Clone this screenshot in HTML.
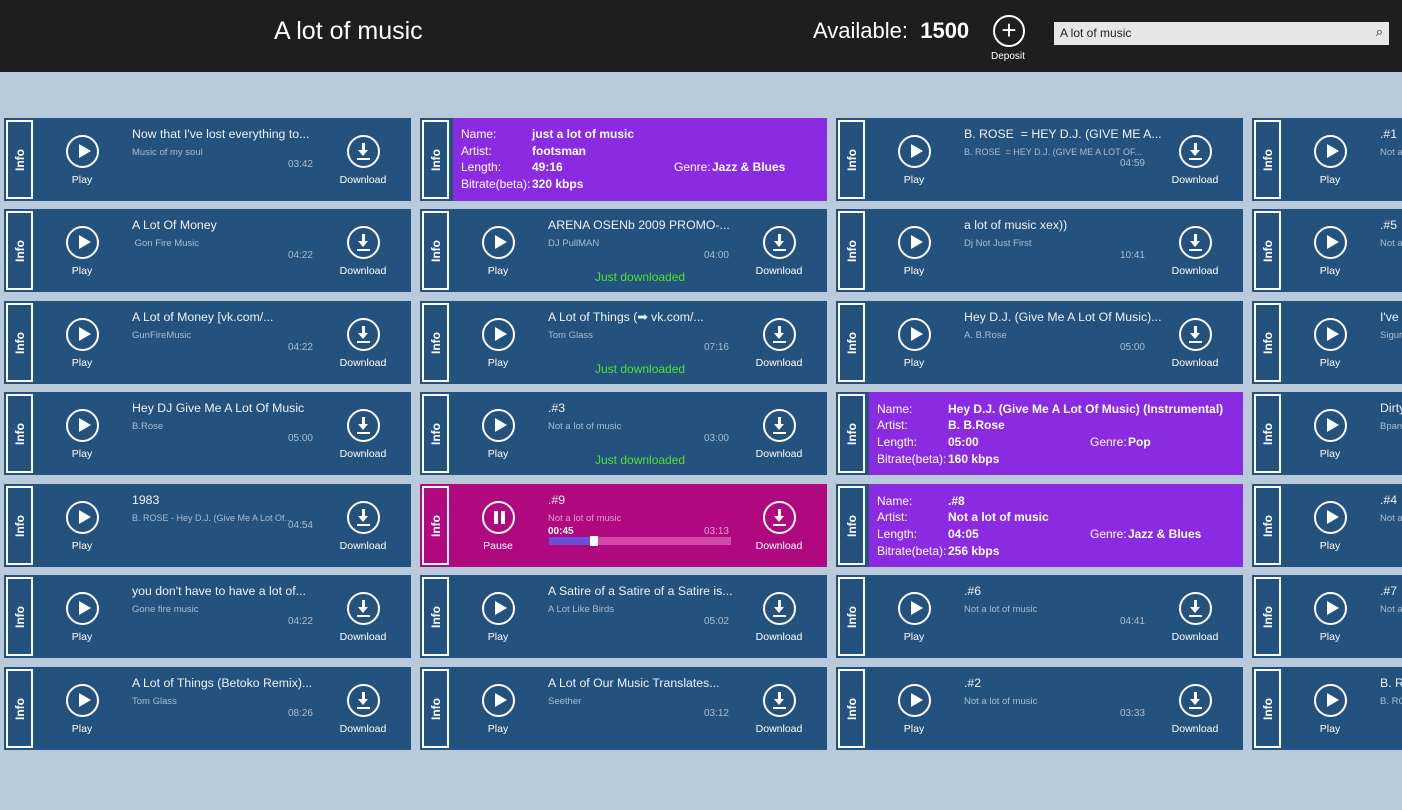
<!DOCTYPE html>
<html><head><meta charset="utf-8"><style>
*{margin:0;padding:0;box-sizing:border-box}
body{width:1402px;height:810px;background:#b9cadb;font-family:"Liberation Sans",sans-serif;color:#fff;position:relative;overflow:hidden}
.hd{position:absolute;left:0;top:0;width:1402px;height:72px;background:#1e1e1e}
.t{position:absolute;width:407px;height:83px;background:#24527e;overflow:hidden}
.i{position:absolute;left:2px;top:2px;width:27px;height:79px;border:2px solid #fff}
.i span{position:absolute;left:50%;top:50%;transform:translate(-50%,-50%) rotate(-90deg);font-size:12px;font-weight:bold}
.c{position:absolute;top:17px;width:33px;height:33px;border:2px solid #fff;border-radius:50%}
.p{left:62px}.d{left:343px}
.p:after{content:"";position:absolute;left:11px;top:7px;border-left:12px solid #fff;border-top:7.5px solid transparent;border-bottom:7.5px solid transparent}
.d:before{content:"";position:absolute;left:13px;top:6px;width:3px;height:9px;background:#fff}
.d:after{content:"";position:absolute;left:9px;top:13px;border-top:6px solid #fff;border-left:5.5px solid transparent;border-right:5.5px solid transparent}
.d i{position:absolute;left:8px;top:21px;width:13px;height:2px;background:#fff}
.l{position:absolute;top:56px;font-size:10.5px;text-align:center;width:80px}
.pl{left:38px}.dl{left:319px}
.ti{position:absolute;left:128px;top:9px;font-size:12.3px;white-space:nowrap;color:#eef2f7}
.su{position:absolute;left:128px;top:29px;font-size:9.5px;color:#a9bcd2;white-space:nowrap}
.du{position:absolute;right:98px;top:41px;font-size:10px;color:#a9bcd2}
.jd{position:absolute;left:175px;top:61px;font-size:12px;color:#4fe22e}
.pu{position:absolute;left:33px;top:0;right:0;bottom:0;background:#8a2be2;font-size:12px;font-weight:bold}
.pu div{position:absolute;white-space:nowrap}
.pu .k{font-weight:normal}
</style></head><body>
<div class="hd">
<div style="position:absolute;left:274px;top:17px;font-size:25px">A lot of music</div>
<div style="position:absolute;left:813px;top:18px;font-size:22px">Available:&nbsp; <b>1500</b></div>
<div style="position:absolute;left:993px;top:15px;width:32px;height:32px;border:2px solid #fff;border-radius:50%;text-align:center;font-size:26px;line-height:27px">+</div>
<div style="position:absolute;left:991px;top:51px;font-size:10px">Deposit</div>
<div style="position:absolute;left:1054px;top:22px;width:335px;height:23px;background:#e6e6e6;color:#222;font-size:12px;padding:4px 6px">A lot of music<span style="position:absolute;right:6px;top:2px;font-size:13px">⌕</span></div>
</div>

<div class="t" style="left:4px;top:118px"><div class="i"><span>Info</span></div><div class="c p"></div><div class="l pl">Play</div><div class="ti">Now that I've lost everything to...</div><div class="su">Music of my soul</div><div class="du">03:42</div><div class="c d"><i></i></div><div class="l dl">Download</div></div>
<div class="t" style="left:4px;top:209px"><div class="i"><span>Info</span></div><div class="c p"></div><div class="l pl">Play</div><div class="ti">A Lot Of Money</div><div class="su">&nbsp;Gon Fire Music</div><div class="du">04:22</div><div class="c d"><i></i></div><div class="l dl">Download</div></div>
<div class="t" style="left:4px;top:301px"><div class="i"><span>Info</span></div><div class="c p"></div><div class="l pl">Play</div><div class="ti">A Lot of Money [vk.com/...</div><div class="su">GunFireMusic</div><div class="du">04:22</div><div class="c d"><i></i></div><div class="l dl">Download</div></div>
<div class="t" style="left:4px;top:392px"><div class="i"><span>Info</span></div><div class="c p"></div><div class="l pl">Play</div><div class="ti">Hey DJ Give Me A Lot Of Music</div><div class="su">B.Rose</div><div class="du">05:00</div><div class="c d"><i></i></div><div class="l dl">Download</div></div>
<div class="t" style="left:4px;top:484px"><div class="i"><span>Info</span></div><div class="c p"></div><div class="l pl">Play</div><div class="ti">1983</div><div class="su" style="font-size:9px">B. ROSE - Hey D.J. (Give Me A Lot Of...</div><div class="du" style="top:36px">04:54</div><div class="c d"><i></i></div><div class="l dl">Download</div></div>
<div class="t" style="left:4px;top:575px"><div class="i"><span>Info</span></div><div class="c p"></div><div class="l pl">Play</div><div class="ti">you don't have to have a lot of...</div><div class="su">Gone fire music</div><div class="du">04:22</div><div class="c d"><i></i></div><div class="l dl">Download</div></div>
<div class="t" style="left:4px;top:667px"><div class="i"><span>Info</span></div><div class="c p"></div><div class="l pl">Play</div><div class="ti">A Lot of Things (Betoko Remix)...</div><div class="su">Tom Glass</div><div class="du">08:26</div><div class="c d"><i></i></div><div class="l dl">Download</div></div>

<div class="t" style="left:420px;top:118px"><div class="i"><span>Info</span></div><div class="pu">
<div class="k" style="left:8px;top:9px">Name:</div><div style="left:79px;top:9px">just a lot of music</div>
<div class="k" style="left:8px;top:26px">Artist:</div><div style="left:79px;top:26px">footsman</div>
<div class="k" style="left:8px;top:42px">Length:</div><div style="left:79px;top:42px">49:16</div>
<div class="k" style="left:221px;top:42px">Genre:</div><div style="left:259px;top:42px">Jazz &amp; Blues</div>
<div class="k" style="left:8px;top:59px">Bitrate(beta):</div><div style="left:79px;top:59px">320 kbps</div></div></div>
<div class="t" style="left:420px;top:209px"><div class="i"><span>Info</span></div><div class="c p"></div><div class="l pl">Play</div><div class="ti">ARENA OSENb 2009 PROMO-...</div><div class="su">DJ PullMAN</div><div class="du">04:00</div><div class="jd">Just downloaded</div><div class="c d"><i></i></div><div class="l dl">Download</div></div>
<div class="t" style="left:420px;top:301px"><div class="i"><span>Info</span></div><div class="c p"></div><div class="l pl">Play</div><div class="ti">A Lot of Things (➡ vk.com/...</div><div class="su">Tom Glass</div><div class="du">07:16</div><div class="jd">Just downloaded</div><div class="c d"><i></i></div><div class="l dl">Download</div></div>
<div class="t" style="left:420px;top:392px"><div class="i"><span>Info</span></div><div class="c p"></div><div class="l pl">Play</div><div class="ti">.#3</div><div class="su">Not a lot of music</div><div class="du">03:00</div><div class="jd">Just downloaded</div><div class="c d"><i></i></div><div class="l dl">Download</div></div>
<div class="t" style="left:420px;top:484px;background:#b0087f"><div class="i"><span>Info</span></div>
<div class="c" style="left:62px"><div style="position:absolute;left:10px;top:8px;width:4px;height:13px;background:#fff"></div><div style="position:absolute;left:17px;top:8px;width:4px;height:13px;background:#fff"></div></div><div class="l pl">Pause</div>
<div class="ti">.#9</div><div class="su" style="color:#e0a0cf">Not a lot of music</div>
<div style="position:absolute;left:128px;top:42px;font-size:10px;font-weight:bold">00:45</div><div class="du" style="top:42px;color:#e0a0cf">03:13</div>
<div style="position:absolute;left:129px;top:53px;width:182px;height:8px;background:#d04aa8"></div>
<div style="position:absolute;left:129px;top:53px;width:41px;height:8px;background:#6a4fd8"></div>
<div style="position:absolute;left:170px;top:52px;width:8px;height:10px;background:#fff"></div>
<div class="c d"><i></i></div><div class="l dl">Download</div></div>
<div class="t" style="left:420px;top:575px"><div class="i"><span>Info</span></div><div class="c p"></div><div class="l pl">Play</div><div class="ti">A Satire of a Satire of a Satire is...</div><div class="su">A Lot Like Birds</div><div class="du">05:02</div><div class="c d"><i></i></div><div class="l dl">Download</div></div>
<div class="t" style="left:420px;top:667px"><div class="i"><span>Info</span></div><div class="c p"></div><div class="l pl">Play</div><div class="ti">A Lot of Our Music Translates...</div><div class="su">Seether</div><div class="du">03:12</div><div class="c d"><i></i></div><div class="l dl">Download</div></div>

<div class="t" style="left:836px;top:118px"><div class="i"><span>Info</span></div><div class="c p"></div><div class="l pl">Play</div><div class="ti">B. ROSE &nbsp;= HEY D.J. (GIVE ME A...</div><div class="su" style="font-size:9px">B. ROSE &nbsp;= HEY D.J. (GIVE ME A LOT OF...</div><div class="du" style="top:40px">04:59</div><div class="c d"><i></i></div><div class="l dl">Download</div></div>
<div class="t" style="left:836px;top:209px"><div class="i"><span>Info</span></div><div class="c p"></div><div class="l pl">Play</div><div class="ti">a lot of music xex))</div><div class="su">Dj Not Just First</div><div class="du">10:41</div><div class="c d"><i></i></div><div class="l dl">Download</div></div>
<div class="t" style="left:836px;top:301px"><div class="i"><span>Info</span></div><div class="c p"></div><div class="l pl">Play</div><div class="ti">Hey D.J. (Give Me A Lot Of Music)...</div><div class="su">A. B.Rose</div><div class="du">05:00</div><div class="c d"><i></i></div><div class="l dl">Download</div></div>
<div class="t" style="left:836px;top:392px"><div class="i"><span>Info</span></div><div class="pu">
<div class="k" style="left:8px;top:10px">Name:</div><div style="left:79px;top:10px">Hey D.J. (Give Me A Lot Of Music) (Instrumental)</div>
<div class="k" style="left:8px;top:26px">Artist:</div><div style="left:79px;top:26px">B. B.Rose</div>
<div class="k" style="left:8px;top:43px">Length:</div><div style="left:79px;top:43px">05:00</div>
<div class="k" style="left:221px;top:43px">Genre:</div><div style="left:259px;top:43px">Pop</div>
<div class="k" style="left:8px;top:60px">Bitrate(beta):</div><div style="left:79px;top:60px">160 kbps</div></div></div>
<div class="t" style="left:836px;top:484px"><div class="i"><span>Info</span></div><div class="pu">
<div class="k" style="left:8px;top:10px">Name:</div><div style="left:79px;top:10px">.#8</div>
<div class="k" style="left:8px;top:26px">Artist:</div><div style="left:79px;top:26px">Not a lot of music</div>
<div class="k" style="left:8px;top:43px">Length:</div><div style="left:79px;top:43px">04:05</div>
<div class="k" style="left:221px;top:43px">Genre:</div><div style="left:259px;top:43px">Jazz &amp; Blues</div>
<div class="k" style="left:8px;top:60px">Bitrate(beta):</div><div style="left:79px;top:60px">256 kbps</div></div></div>
<div class="t" style="left:836px;top:575px"><div class="i"><span>Info</span></div><div class="c p"></div><div class="l pl">Play</div><div class="ti">.#6</div><div class="su">Not a lot of music</div><div class="du">04:41</div><div class="c d"><i></i></div><div class="l dl">Download</div></div>
<div class="t" style="left:836px;top:667px"><div class="i"><span>Info</span></div><div class="c p"></div><div class="l pl">Play</div><div class="ti">.#2</div><div class="su">Not a lot of music</div><div class="du">03:33</div><div class="c d"><i></i></div><div class="l dl">Download</div></div>

<div class="t" style="left:1252px;top:118px"><div class="i"><span>Info</span></div><div class="c p"></div><div class="l pl">Play</div><div class="ti">.#1</div><div class="su">Not a lot of music</div></div>
<div class="t" style="left:1252px;top:209px"><div class="i"><span>Info</span></div><div class="c p"></div><div class="l pl">Play</div><div class="ti">.#5</div><div class="su">Not a lot of music</div></div>
<div class="t" style="left:1252px;top:301px"><div class="i"><span>Info</span></div><div class="c p"></div><div class="l pl">Play</div><div class="ti">I've</div><div class="su">Sigur</div></div>
<div class="t" style="left:1252px;top:392px"><div class="i"><span>Info</span></div><div class="c p"></div><div class="l pl">Play</div><div class="ti">Dirty</div><div class="su">Bpan</div></div>
<div class="t" style="left:1252px;top:484px"><div class="i"><span>Info</span></div><div class="c p"></div><div class="l pl">Play</div><div class="ti">.#4</div><div class="su">Not a lot of music</div></div>
<div class="t" style="left:1252px;top:575px"><div class="i"><span>Info</span></div><div class="c p"></div><div class="l pl">Play</div><div class="ti">.#7</div><div class="su">Not a lot of music</div></div>
<div class="t" style="left:1252px;top:667px"><div class="i"><span>Info</span></div><div class="c p"></div><div class="l pl">Play</div><div class="ti">B. RO</div><div class="su">B. ROSE</div></div>
</body></html>
